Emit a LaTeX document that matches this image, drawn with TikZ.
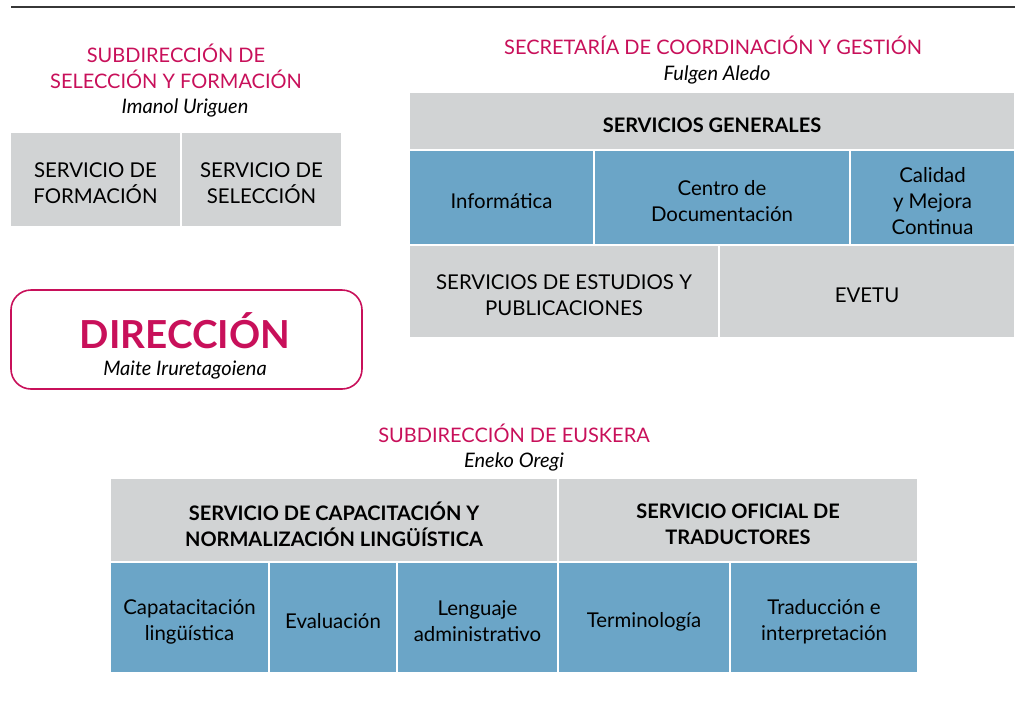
\documentclass[tikz,border=0pt]{standalone}
\usepackage{fontspec}
\setmainfont{Lato}
\usetikzlibrary{fit}
\definecolor{crimson}{RGB}{200,16,90}
\definecolor{cellgray}{RGB}{209,211,212}
\definecolor{cellblue}{RGB}{107,165,199}
\definecolor{rulegray}{RGB}{55,55,55}
\begin{document}
\begin{tikzpicture}[
		x=0.5pt, y=-0.5pt,
		cell/.style={rectangle,draw=white,line width=1pt,inner sep=0pt},
		gcell/.style={cell,fill=cellgray},
		bcell/.style={cell,fill=cellblue},
		ctext/.style={align=center,yshift=-2pt,font=\fontsize{10.2}{13}\selectfont},
		htext/.style={align=center,yshift=-2pt,font=\fontsize{10}{13}\selectfont\bfseries},
		unit/.style={text=crimson,align=center,font=\fontsize{10}{13}\selectfont},
		chief/.style={font=\fontsize{10}{12}\selectfont\itshape}]
	\useasboundingbox (0,0) rectangle (1015,702);
	%% top rule
	\draw[rulegray,line width=0.75pt] (11,7) -- (1015,7);
	%% seleccion y formacion
	\node (ssf) at (176,66) [unit] {SUBDIRECCIÓN DE\\SELECCIÓN Y FORMACIÓN};
	\node (ssfchief) at (185,108) [chief] {Imanol Uriguen};
	\node (sform) [gcell,fit={(10,132) (181,227)},label={[ctext]center:SERVICIO DE\\FORMACIÓN}] {};
	\node (ssel) [gcell,fit={(181,132) (342,227)},label={[ctext]center:SERVICIO DE\\SELECCIÓN}] {};
	%% direccion
	\node (dir) [draw=crimson,line width=0.8pt,rounded corners=10pt,inner sep=0pt,fit={(11,290) (362,389)}] {};
	\node (dirname) at (185,331) [text=crimson,font=\fontsize{19.3}{23}\selectfont\bfseries] {DIRECCIÓN};
	\node (dirchief) at (185,370) [chief] {Maite Iruretagoiena};
	%% secretaria
	\node (sec) at (713,45) [unit] {SECRETARÍA DE COORDINACIÓN Y GESTIÓN};
	\node (secchief) at (717,75) [chief] {Fulgen Aledo};
	\node (sg) [gcell,fit={(409,92) (1015,150)},label={[htext]center:SERVICIOS GENERALES}] {};
	\node (inf) [bcell,fit={(409,150) (594,245)},label={[ctext]center:Informática}] {};
	\node (cdoc) [bcell,fit={(594,150) (850,245)},label={[ctext]center:Centro de\\Documentación}] {};
	\node (cal) [bcell,fit={(850,150) (1015,245)},label={[ctext]center:Calidad\\y Mejora\\Continua}] {};
	\node (sep) [gcell,fit={(409,245) (719,338)},label={[ctext]center:SERVICIOS DE ESTUDIOS Y\\PUBLICACIONES}] {};
	\node (evetu) [gcell,fit={(719,245) (1015,338)},label={[ctext]center:EVETU}] {};
	%% euskera
	\node (eus) at (514,433) [unit] {SUBDIRECCIÓN DE EUSKERA};
	\node (euschief) at (514,462) [chief] {Eneko Oregi};
	\node (scn) [gcell,fit={(110,478) (558,562)},label={[htext]center:SERVICIO DE CAPACITACIÓN Y\\NORMALIZACIÓN LINGÜÍSTICA}] {};
	\node (sot) [gcell,fit={(558,478) (918,562)},label={[htext]center:SERVICIO OFICIAL DE\\TRADUCTORES}] {};
	\node (cap) [bcell,fit={(110,562) (269,673)},label={[ctext]center:Capatacitación\\lingüística}] {};
	\node (eval) [bcell,fit={(269,562) (397,673)},label={[ctext]center:Evaluación}] {};
	\node (leng) [bcell,fit={(397,562) (558,673)},label={[ctext]center:Lenguaje\\administrativo}] {};
	\node (term) [bcell,fit={(558,562) (730,673)},label={[ctext]center:Terminología}] {};
	\node (trad) [bcell,fit={(730,562) (918,673)},label={[ctext]center:Traducción e\\interpretación}] {};
\end{tikzpicture}
\end{document}
